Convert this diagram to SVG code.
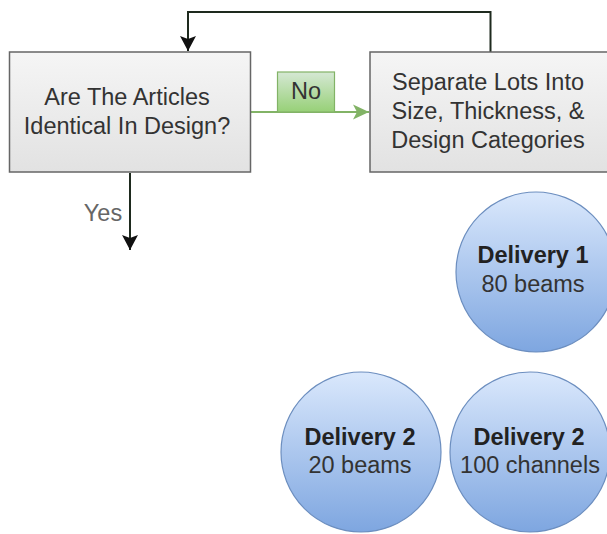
<svg xmlns="http://www.w3.org/2000/svg" width="607" height="534" viewBox="0 0 607 534">
  <style>
    .box { stroke: #666666; stroke-width: 1.5; fill: url(#gBox); }
    .circ { stroke: #6c8ebf; stroke-width: 1.2; fill: url(#gCirc); }
    .lbl { font-family: "Liberation Sans", Arial, sans-serif; font-size: 23.5px; fill: #333333; text-anchor: middle; }
    .bold { font-weight: bold; fill: #222222; }
    .wire { fill: none; stroke: #1e2a1e; stroke-width: 2; }
    .wire-no { fill: none; stroke: #82b366; stroke-width: 2; }
  </style>
  <defs>
    <linearGradient id="gBox" x1="0" y1="0" x2="0" y2="1">
      <stop offset="0" stop-color="#f5f5f5"/>
      <stop offset="1" stop-color="#e2e2e2"/>
    </linearGradient>
    <linearGradient id="gCirc" x1="0" y1="0" x2="0" y2="1">
      <stop offset="0" stop-color="#dae8fc"/>
      <stop offset="1" stop-color="#7ea6e0"/>
    </linearGradient>
    <linearGradient id="gNo" x1="0" y1="0" x2="0" y2="1">
      <stop offset="0" stop-color="#d5e8d4"/>
      <stop offset="1" stop-color="#97d077"/>
    </linearGradient>
    <marker id="arrDark" markerUnits="userSpaceOnUse" markerWidth="18" markerHeight="18" viewBox="0 0 18 18" refX="16" refY="9" orient="auto">
      <path d="M1,1 L16,9 L1,17 L4,9 Z" fill="#111111"/>
    </marker>
    <marker id="arrGreen" markerUnits="userSpaceOnUse" markerWidth="18" markerHeight="16" viewBox="0 0 18 16" refX="16" refY="8" orient="auto">
      <path d="M0,0.5 L16,8 L0,15.5 L4,8 Z" fill="#82b366"/>
    </marker>
  </defs>

  <g id="connectors">
    <!-- loop back from the sorting step to the question -->
    <path class="wire" d="M490.5,52 V12 H188 V51" marker-end="url(#arrDark)"/>
    <!-- yes branch -->
    <path class="wire" d="M130,173 V250" marker-end="url(#arrDark)"/>
    <!-- no branch -->
    <path class="wire-no" d="M251,112 H369" marker-end="url(#arrGreen)"/>
  </g>

  <g id="node-question">
    <rect class="box" x="9.5" y="52" width="241" height="120"/>
    <text class="lbl" x="127" y="105">Are The Articles</text>
    <text class="lbl" x="127" y="134">Identical In Design?</text>
  </g>

  <g id="node-separate">
    <rect class="box" x="370" y="52" width="241" height="120"/>
    <text class="lbl" x="488" y="90">Separate Lots Into</text>
    <text class="lbl" x="488" y="119">Size, Thickness, &amp;</text>
    <text class="lbl" x="488" y="147.5">Design Categories</text>
  </g>

  <g id="label-no">
    <rect x="277.5" y="72" width="57" height="40" fill="url(#gNo)" stroke="#82b366" stroke-width="1.2"/>
    <text class="lbl" x="306" y="98.5">No</text>
  </g>

  <g id="label-yes">
    <text class="lbl" x="103" y="221" style="fill:#666666">Yes</text>
  </g>

  <g id="node-delivery1">
    <circle class="circ" cx="536" cy="272" r="80"/>
    <text class="lbl bold" x="533" y="263">Delivery 1</text>
    <text class="lbl" x="533" y="292">80 beams</text>
  </g>

  <g id="node-delivery2-beams">
    <circle class="circ" cx="361" cy="452" r="80"/>
    <text class="lbl bold" x="360" y="445">Delivery 2</text>
    <text class="lbl" x="360" y="473">20 beams</text>
  </g>

  <g id="node-delivery2-channels">
    <circle class="circ" cx="530" cy="452" r="80"/>
    <text class="lbl bold" x="529" y="445">Delivery 2</text>
    <text class="lbl" x="530" y="473">100 channels</text>
  </g>
</svg>
